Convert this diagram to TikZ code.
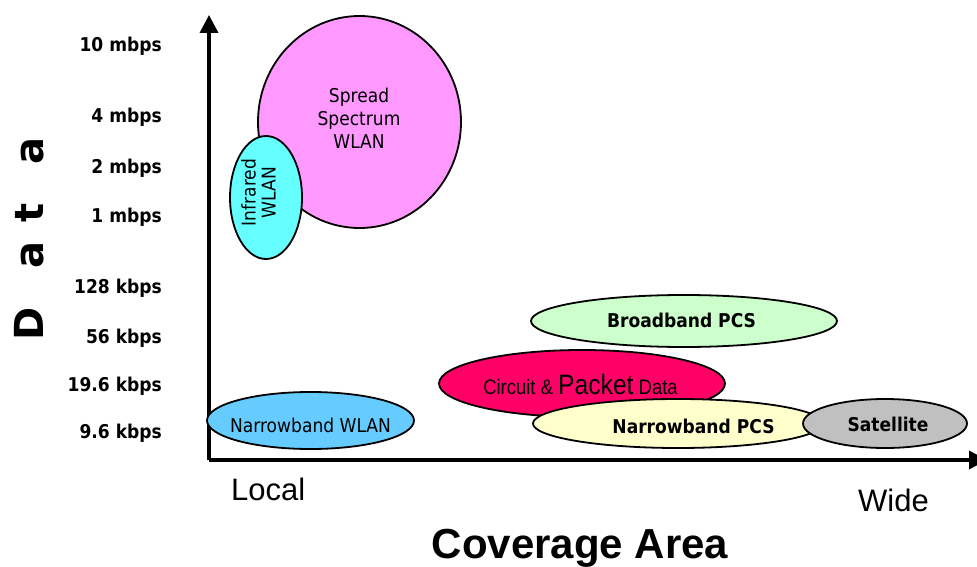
\documentclass[tikz,border=0pt]{standalone}
\usepackage{fontspec}
\setmainfont[FakeStretch=0.9]{DejaVu Sans}
\newfontfamily\axisfont{Liberation Sans}
\newfontfamily\narrowfont[FakeStretch=0.88]{Liberation Sans}
\newfontfamily\widefont{DejaVu Sans}
\usetikzlibrary{shapes.geometric,arrows.meta}

\definecolor{sspink}{HTML}{FF99FF}
\definecolor{ircyan}{HTML}{66FFFF}
\definecolor{nwblue}{HTML}{66CCFF}
\definecolor{bbgreen}{HTML}{CCFFCC}
\definecolor{cpred}{HTML}{FF0066}
\definecolor{npyellow}{HTML}{FFFFCC}
\definecolor{satgray}{HTML}{C0C0C0}

\begin{document}
\begin{tikzpicture}[x=1pt,y=-1pt,
  blob/.style={ellipse, draw=black, line width=1.8pt, inner sep=0pt, outer sep=0pt},
  txt/.style={inner sep=0pt, font=\fontsize{19}{22}\selectfont},
  btxt/.style={inner sep=0pt, font=\bfseries\fontsize{19}{22}\selectfont},
  tick/.style={btxt, anchor=base east},
  axis/.style={line width=3.5pt, -{Triangle[length=18pt,width=18pt]}}]

% canvas
\fill[white] (0,0) rectangle (977,567);
\useasboundingbox (0,0) rectangle (977,567);

% axes
\coordinate (origin) at (209,460);
\coordinate (ytop) at (209,15);
\coordinate (xend) at (987,460);
\draw[axis] (origin) -- (ytop);
\draw[axis] (origin) -- (xend);

% data-rate ticks
\node[tick] (t10m)  at (162,52)  {10 mbps};
\node[tick] (t4m)   at (162,123) {4 mbps};
\node[tick] (t2m)   at (162,173) {2 mbps};
\node[tick] (t1m)   at (162,222) {1 mbps};
\node[tick] (t128k) at (162,293) {128 kbps};
\node[tick] (t56k)  at (162,343) {56 kbps};
\node[tick] (t196k) at (162,391) {19.6 kbps};
\node[tick] (t96k)  at (162,438) {9.6 kbps};

% axis titles
\node[rotate=90, anchor=base, inner sep=0pt,
      font=\widefont\bfseries\fontsize{40}{40}\selectfont] (ylabel) at (43,239)
  {D\hspace{39pt}a\hspace{19pt}t\hspace{39pt}a};
\node[anchor=base west, inner sep=0pt, font=\axisfont\fontsize{31}{31}\selectfont]
  (local) at (231,500) {Local};
\node[anchor=base west, inner sep=0pt, font=\axisfont\fontsize{31}{31}\selectfont]
  (wide) at (858,511) {Wide};
\node[anchor=base, inner sep=0pt, font=\axisfont\bfseries\fontsize{42}{42}\selectfont]
  (xlabel) at (580,558) {Coverage Area};

% technologies
\node[blob, fill=sspink, minimum width=203pt, minimum height=212pt] (ss) at (359.5,122) {};
\node[txt, align=center, font=\fontsize{19}{23}\selectfont] (ssText) at (359,118)
  {Spread\\Spectrum\\WLAN};

\node[blob, fill=ircyan, minimum width=72pt, minimum height=123pt] (ir) at (266,197.5) {};
\node[txt, rotate=90, align=center, font=\fontsize{19}{20}\selectfont] (irText) at (258.5,192.5)
  {Infrared\\WLAN};

\node[blob, fill=nwblue, minimum width=207pt, minimum height=57pt] (nw) at (310.5,420.5) {};
\node[txt, anchor=base] (nwText) at (310.5,432) {Narrowband WLAN};

\node[blob, fill=bbgreen, minimum width=306pt, minimum height=52pt] (bb) at (684,321) {};
\node[btxt, anchor=base] (bbText) at (681.5,327) {Broadband PCS};

\node[blob, fill=cpred, minimum width=286pt, minimum height=67pt] (cp) at (582,383.5) {};
\node[anchor=base, inner sep=0pt] (cpText) at (580.5,394)
  {\narrowfont\fontsize{21}{24}\selectfont Circuit \& {\fontsize{28}{30}\selectfont Packet} Data};

\node[blob, fill=npyellow, minimum width=290pt, minimum height=49pt] (np) at (678,423.5) {};
\node[btxt, anchor=base] (npText) at (693.5,433) {Narrowband PCS};

\node[blob, fill=satgray, minimum width=164pt, minimum height=49pt] (sat) at (885,423.5) {};
\node[btxt, anchor=base] (satText) at (888,431) {Satellite};
\end{tikzpicture}
\end{document}
